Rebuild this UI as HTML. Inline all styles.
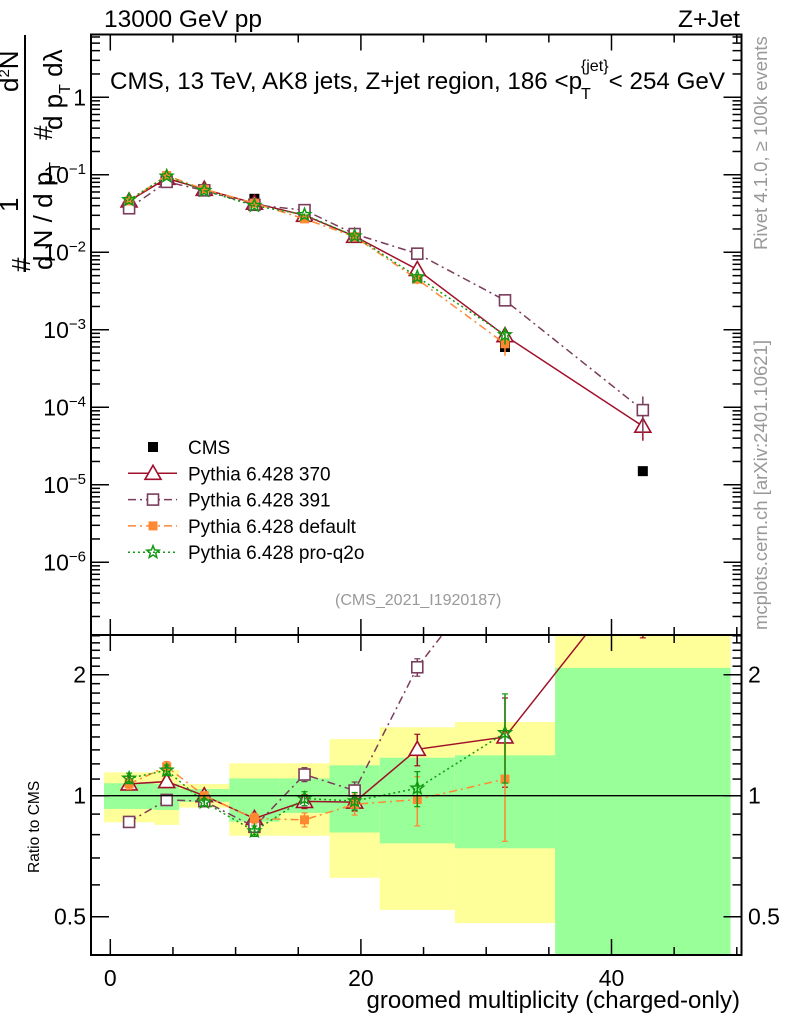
<!DOCTYPE html>
<html><head><meta charset="utf-8"><style>
body{margin:0;background:#fff;}
svg text{font-family:"Liberation Sans",sans-serif;}
</style></head><body>
<svg id="chart" width="786" height="1024" viewBox="0 0 786 1024" xmlns="http://www.w3.org/2000/svg">
<g id="bands"></g>
<g id="grid"></g>
<g id="series"></g>
<g id="axes"></g>
<text x="104" y="27" font-size="24.5">13000 GeV pp</text>
<text x="740" y="27" font-size="24.5" text-anchor="end">Z+Jet</text>
<text x="110" y="89" font-size="24" textLength="615" lengthAdjust="spacingAndGlyphs">CMS, 13 TeV, AK8 jets, Z+jet region, 186 &lt;p<tspan font-size="16" dy="10" dx="-1">T</tspan><tspan font-size="16" dy="-28" dx="-10">{jet}</tspan><tspan dy="18">&lt; 254 GeV</tspan></text>
<text transform="translate(767,250) rotate(-90)" font-size="18.5" fill="#999">Rivet 4.1.0, ≥ 100k events</text>
<text transform="translate(767,630) rotate(-90)" font-size="18.5" fill="#999">mcplots.cern.ch [arXiv:2401.10621]</text>
<text x="335" y="605" font-size="16" fill="#999">(CMS_2021_I1920187)</text>
<g font-size="26">
<text transform="translate(30,272) rotate(-90)">#</text>
<text transform="translate(18,212) rotate(-90)">1</text>
<line x1="25" y1="272" x2="25" y2="35" stroke="#000" stroke-width="2"/>
<text transform="translate(52,270) rotate(-90)">d N / d p<tspan font-size="16" dy="8">T</tspan></text>
<text transform="translate(52,140) rotate(-90)">#</text>
<text transform="translate(18,92) rotate(-90)">d<tspan font-size="15" dy="-9">2</tspan><tspan dy="9">N</tspan></text>
<text transform="translate(62,130) rotate(-90)">d p<tspan font-size="16" dy="8">T</tspan><tspan dy="-8"> dλ</tspan></text>
</g>
<text transform="translate(39,873) rotate(-90)" font-size="15.5">Ratio to CMS</text>
<text x="740" y="1008" font-size="24" text-anchor="end">groomed multiplicity (charged-only)</text>
<g id="legend"></g>
</svg>
<script>
const binEdges=[-0.5,3.5,5.5,9.5,13.5,17.5,21.5,27.5,35.5,49.5];
const xCenters=[1.5,4.5,7.5,11.5,15.5,19.5,24.5,31.5,42.5];
const cmsVals=[0.043,0.083,0.065,0.049,0.031,0.0167,0.0046,0.00060,1.5e-5];
const p370=[0.046,0.090,0.065,0.043,0.030,0.0161,0.0060,0.00084,5.7e-5];
const p391=[0.037,0.081,0.063,0.041,0.035,0.0172,0.0096,0.0024,9.2e-5];
const pDefault=[0.046,0.098,0.065,0.043,0.027,0.0159,0.0045,0.00066,null];
const pProq2o=[0.0475,0.096,0.0626,0.040,0.0305,0.0162,0.0048,0.00086,null];
const relErr370=[0.03,0.03,0.02,0.03,0.04,0.05,0.09,0.25,0.35];
const relErr391=[0.03,0.03,0.02,0.03,0.04,0.05,0.05,0.08,0.5];
const relErrDef=[0.03,0.03,0.02,0.03,0.04,0.06,0.14,0.3,0];
const relErrPro=[0.03,0.03,0.02,0.03,0.04,0.05,0.1,0.25,0];
const greenHi=[1.074,1.07,1.039,1.104,1.104,1.19,1.243,1.26,2.08];
const greenLo=[0.927,0.922,0.965,0.862,0.906,0.81,0.761,0.74,0.3];
const yellowHi=[1.143,1.159,1.069,1.204,1.204,1.383,1.48,1.525,3.5];
const yellowLo=[0.859,0.846,0.934,0.795,0.795,0.625,0.52,0.482,0.3];
const yMainTicks=[1,0.1,0.01,0.001,1e-4,1e-5,1e-6];
const yMainLabels=[["1",""],["10","−1"],["10","−2"],["10","−3"],["10","−4"],["10","−5"],["10","−6"]];
const xTickLabels=[0,20,40];
const ratioTicks=[0.5,1,2];
const ratioLabels=["0.5","1","2"];

const NS="http://www.w3.org/2000/svg";
const L=91,R=741.5,T=34.5,MB=635,RB=955;
const X=v=>110.3+(v)*12.53;
const Y=v=>97.3-77.5*Math.log10(v);
const YR=v=>795.7-121*Math.log2(v);
function mk(par,tag,attrs){const e=document.createElementNS(NS,tag);for(const k in attrs)e.setAttribute(k,attrs[k]);par.appendChild(e);return e;}
const bands=document.getElementById('bands'),axes=document.getElementById('axes'),ser=document.getElementById('series');
const clip=mk(document.getElementById('chart'),'clipPath',{id:'rc'});mk(clip,'rect',{x:L,y:MB,width:R-L,height:RB-MB});
const clipM=mk(document.getElementById('chart'),'clipPath',{id:'mc'});mk(clipM,'rect',{x:L,y:T,width:R-L,height:MB-T});
bands.setAttribute('clip-path','url(#rc)');
for(let i=0;i<xCenters.length;i++){
  const x0=X(binEdges[i]),x1=X(binEdges[i+1]);
  let r=mk(bands,'rect',{x:x0,y:YR(yellowHi[i]),width:x1-x0,height:YR(yellowLo[i])-YR(yellowHi[i]),fill:'#ffff99'});
  
  
  r=mk(bands,'rect',{x:x0,y:YR(greenHi[i]),width:x1-x0,height:YR(greenLo[i])-YR(greenHi[i]),fill:'#99ff99'});
  
  
}
mk(axes,'rect',{x:L,y:T,width:R-L,height:MB-T,fill:'none',stroke:'#000','stroke-width':2});
mk(axes,'rect',{x:L,y:MB,width:R-L,height:RB-MB,fill:'none',stroke:'#000','stroke-width':2});
mk(axes,'line',{x1:L,y1:YR(1),x2:R,y2:YR(1),stroke:'#000','stroke-width':1.3});
for(let v=0;v<=50;v+=5){const big=v%20==0;const len=big?16:8;const x=X(v);
  [[T,1],[MB,-1],[MB,1],[RB,-1]].forEach(([y,d])=>mk(axes,'line',{x1:x,y1:y,x2:x,y2:y+d*len,stroke:'#000','stroke-width':1.5}));}
xTickLabels.forEach(v=>{const t=mk(axes,'text',{x:X(v),y:986,'font-size':23,'text-anchor':'middle'});t.textContent=v;
  
  });
for(let e=-7;e<=0;e++){for(let m=1;m<10;m++){const v=m*Math.pow(10,e);const y=Y(v);if(y<T||y>MB)continue;
  const len=m==1?18:9;mk(axes,'line',{x1:L,y1:y,x2:L+len,y2:y,stroke:'#000','stroke-width':1.5});mk(axes,'line',{x1:R,y1:y,x2:R-len,y2:y,stroke:'#000','stroke-width':1.5});}}
yMainTicks.forEach((v,i)=>{const t=mk(axes,'text',{x:86,y:Y(v)+8,'font-size':23,'text-anchor':'end'});
  t.textContent=yMainLabels[i][0];
  if(yMainLabels[i][1]){const s=mk(t,'tspan',{'font-size':15,dy:-9});s.textContent=yMainLabels[i][1];}
  
  });
const rminor=[0.4,0.5,0.6,0.7,0.8,0.9,1,1.1,1.2,1.3,1.4,1.5,1.6,1.7,1.8,1.9,2,2.1,2.2,2.3,2.4,2.5];
rminor.forEach(v=>{const y=YR(v);if(y<MB||y>RB)return;const big=[0.5,1,2].includes(v);const len=big?18:9;
  mk(axes,'line',{x1:L,y1:y,x2:L+len,y2:y,stroke:'#000','stroke-width':1.5});mk(axes,'line',{x1:R,y1:y,x2:R-len,y2:y,stroke:'#000','stroke-width':1.5});});
ratioTicks.forEach((v,i)=>{let t=mk(axes,'text',{x:86,y:YR(v)+8,'font-size':23,'text-anchor':'end'});t.textContent=ratioLabels[i];
  
  
  t=mk(axes,'text',{x:748,y:YR(v)+8,'font-size':23});t.textContent=ratioLabels[i];
  
  });

function marker(g,type,x,y,col){
  if(type=='cms')return mk(g,'rect',{x:x-5,y:y-5,width:10,height:10,fill:'#000'});
  if(type=='tri')return mk(g,'polygon',{points:`${x},${y-8} ${x-8},${y+6} ${x+8},${y+6}`,fill:'#fff',stroke:col,'stroke-width':1.6});
  if(type=='sq')return mk(g,'rect',{x:x-5.5,y:y-5.5,width:11,height:11,fill:'#fff',stroke:col,'stroke-width':1.6});
  if(type=='fsq')return mk(g,'rect',{x:x-4.5,y:y-4.5,width:9,height:9,fill:col});
  if(type=='star'){let p=[];for(let k=0;k<10;k++){const r=k%2?2.8:6.5,a=-Math.PI/2+k*Math.PI/5;p.push((x+r*Math.cos(a)).toFixed(1)+','+(y+r*Math.sin(a)).toFixed(1));}
    return mk(g,'polygon',{points:p.join(' '),fill:'none',stroke:col,'stroke-width':1.5});}
}
const series=[
 {name:'pythia-370',vals:p370,err:relErr370,col:'#a0102a',m:'tri',dash:''},
 {name:'pythia-391',vals:p391,err:relErr391,col:'#7a3d5c',m:'sq',dash:'8,4,2,4'},
 {name:'pythia-default',vals:pDefault,err:relErrDef,col:'#ff8833',m:'fsq',dash:'8,4,2,4'},
 {name:'pythia-pro-q2o',vals:pProq2o,err:relErrPro,col:'#119911',m:'star',dash:'2,3'}];
const gm=mk(ser,'g',{'clip-path':'url(#mc)'});
const gr=mk(ser,'g',{'clip-path':'url(#rc)'});
series.forEach(s=>{
  const g=mk(gm,'g',{});
  
  
  const pts=[];const rpts=[];
  s.vals.forEach((v,i)=>{if(v==null)return;pts.push([X(xCenters[i]),Y(v)]);rpts.push([X(xCenters[i]),YR(v/cmsVals[i])]);});
  mk(g,'polyline',{points:pts.map(p=>p.join(',')).join(' '),fill:'none',stroke:s.col,'stroke-width':1.5,'stroke-dasharray':s.dash});
  const g2=mk(gr,'g',{});
  
  
  mk(g2,'polyline',{points:rpts.map(p=>p.join(',')).join(' '),fill:'none',stroke:s.col,'stroke-width':1.5,'stroke-dasharray':s.dash});
  s.vals.forEach((v,i)=>{if(v==null)return;const x=X(xCenters[i]);const e=s.err[i];
    mk(g,'line',{x1:x,y1:Y(v*(1+e)),x2:x,y2:Y(v*Math.max(0.05,1-e)),stroke:s.col,'stroke-width':1.5});
    const r=v/cmsVals[i];
    mk(g2,'line',{x1:x,y1:YR(r*(1+e)),x2:x,y2:YR(r*Math.max(0.05,1-e)),stroke:s.col,'stroke-width':1.5});
    [YR(r*(1+e)),YR(r*Math.max(0.05,1-e))].forEach(yy=>mk(g2,'line',{x1:x-3,y1:yy,x2:x+3,y2:yy,stroke:s.col,'stroke-width':1.2}));
    const mm=marker(g,s.m,x,Y(v),s.col);
    
    
    const mr=marker(g2,s.m,x,YR(r),s.col);
    
    
  });
});
const gc=mk(gm,'g',{});


cmsVals.forEach((v,i)=>{const m=marker(gc,'cms',X(xCenters[i]),Y(v));
  
  });
gm.insertBefore(gc,gm.firstChild);
const lg=document.getElementById('legend');
const legNames=['CMS','Pythia 6.428 370','Pythia 6.428 391','Pythia 6.428 default','Pythia 6.428 pro-q2o'];
legNames.forEach((n,i)=>{const y=447+i*26.3;
  const ge=mk(lg,'g',{});
  
  
  if(i==0)marker(ge,'cms',153,y);
  else{const s=series[i-1];mk(ge,'line',{x1:128,y1:y,x2:177,y2:y,stroke:s.col,'stroke-width':1.5,'stroke-dasharray':s.dash});marker(ge,s.m,153,y,s.col);}
  const t=mk(ge,'text',{x:188,y:y+7,'font-size':19});t.textContent=n;});
</script>
</body></html>
